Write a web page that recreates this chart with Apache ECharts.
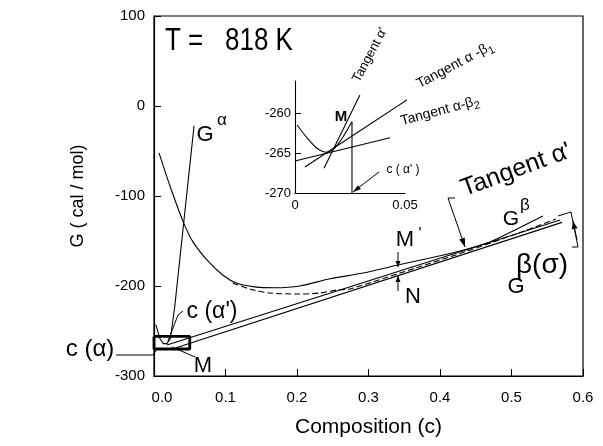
<!DOCTYPE html>
<html><head><meta charset="utf-8">
<script src="https://cdn.jsdelivr.net/npm/echarts@6/dist/echarts.min.js"></script>
<style>html,body{margin:0;padding:0;background:#fff}#c{width:603px;height:446px}</style>
</head><body><div id="c"></div>
<script>
// ---- data ----
const xTickValues = [0, 0.1, 0.2, 0.3, 0.4, 0.5, 0.6];
const yTickValues = [-300, -200, -100, 0, 100];
const gAlpha = [[0.0025,-243],[0.008,-258],[0.013,-264],[0.018,-264],[0.023,-258],[0.029,-223],[0.056,-22]];
const gBeta = [[0.007,-52],[0.022,-88],[0.041,-129],[0.0545,-151],[0.074,-171],[0.0965,-188],[0.116,-197],[0.141,-201],[0.169,-202],[0.204,-200],[0.246,-192],[0.292,-185.6],[0.341,-176.7],[0.386,-168.9],[0.428,-161.1],[0.470,-151.1],[0.505,-137.8],[0.544,-122.2]];
const gBetaSigma = [[0.110,-196.7],[0.134,-203.3],[0.162,-207.8],[0.204,-208.9],[0.232,-207.8],[0.256,-204.4],[0.274,-203.3],[0.344,-185.6],[0.428,-163.9],[0.512,-140.6],[0.562,-125.6]];
const tangentAlphaP = [[0.018,-265.5],[0.568,-126.7]];
const tangentCommon = [[0.03,-268.8],[0.5706,-129.3]];
const zoomBox = [[0,-256],[0.05,-256],[0.05,-270],[0,-270],[0,-256]];
// inset
const insetXLabels = [0, 0.05];
const insetYLabels = [-270, -265, -260];
const insetGAlpha = [[0.0009,-261.5],[0.0055,-263.1],[0.010,-264.4],[0.0145,-264.9],[0.018,-264.4],[0.0218,-263.0],[0.0259,-261.1]];
const insetTanAlphaP = [[0.0132,-266.9],[0.0295,-257.75]];
const insetTanAB1 = [[0.0045,-266.75],[0.0523,-258.1]];
const insetTanAB2 = [[0,-266],[0.0432,-263.1]];
const insetCAlphaP = [[0.0259,-261.1],[0.0259,-270]];

const FF = '"Liberation Sans", Arial, sans-serif';
const chart = echarts.init(document.getElementById('c'), null, {renderer:'canvas'});

function lineSeries(data, xi, opts) {
  opts = opts || {};
  return {type:'line', xAxisIndex:xi, yAxisIndex:xi, data:data, symbol:'none', showSymbol:false,
    clip:false, silent:true, animation:false, smooth:opts.smooth||false,
    lineStyle:{color:'#000', width:opts.width||1.1, type:opts.type||'solid'}};
}
function txt(x,y,text,size,opt){
  opt=opt||{};
  return {type:'text', x:x, y:y, rotation:opt.rot||0, scaleY:opt.sy||1, silent:true,
    style:{text:text, font:(opt.weight||'normal')+' '+size+'px '+FF, fill:'#000',
      align:opt.align||'center', textAlign:opt.align||'center', verticalAlign:'middle', textVerticalAlign:'middle', rich:opt.rich}};
}
function pl(points,w){ return {type:'polyline', silent:true, shape:{points:points}, style:{stroke:'#000', lineWidth:w||1, fill:null}}; }
function arrow(x1,y1,x2,y2,len,w){
  len=len||8; w=w||2.5;
  const a=Math.atan2(y2-y1,x2-x1), c=Math.cos(a), s=Math.sin(a);
  return [pl([[x1,y1],[x2,y2]]),
    {type:'polygon', silent:true, shape:{points:[[x2,y2],[x2-len*c+w*s,y2-len*s-w*c],[x2-len*c-w*s,y2-len*s+w*c]]}, style:{fill:'#000'}}];
}

const graphics = [].concat(
  [txt(165,41.5,'T =   818 K',26,{align:'left', sy:1.22})],
  [txt(205,134.5,'G',22), txt(222,120,'α',17)],
  [txt(90,349,'c (α)',24), pl([[116,355],[153,355],[157,349]])],
  [txt(212,312,"c (α')",23), pl([[183,311],[178,315],[168,341]])],
  [txt(203,366,'M',22), pl([[172,347],[195,357]])],
  [txt(405,240,'M',22), txt(420,235,"'",16)],
  arrow(398,252,398,267,6,2.5),
  arrow(398,291,398,276,6,2.5),
  [txt(413,297,'N',22)],
  [txt(516,170,"Tangent α'",25,{rot:20*Math.PI/180})],
  [pl([[455,198],[448,198]])], arrow(448,198,465,247,9,3),
  [txt(511,219,'G',21), txt(525,205,'β',17)],
  [txt(542,265,'β(σ)',28), txt(516,287,'G',22)],
  [pl([[558,216],[571,212],[578,247],[572,247]])], arrow(577,240,573,221,8,3),
  // inset annotations
  [txt(341,117,'M',15,{weight:'bold'})],
  [txt(370,55,"Tangent α'",13,{rot:62*Math.PI/180})],
  [txt(455,65,'{a|Tangent α -β}{b|1}',14,{rot:28*Math.PI/180, rich:{a:{font:'14px '+FF},b:{font:'11px '+FF, padding:[9,0,0,0]}}})],
  [txt(440,111,'{a|Tangent α-β}{b|2}',14,{rot:15*Math.PI/180, rich:{a:{font:'14px '+FF},b:{font:'11px '+FF, padding:[9,0,0,0]}}})],
  [txt(403,170,"c ( α' )",12)],
  arrow(379,172,353,192,8,2.5)
);

chart.setOption({
  animation:false,
  backgroundColor:'#fff',
  grid:[
    {left:154, right:20, top:16, bottom:70, show:true, borderColor:'#000', borderWidth:1.2, backgroundColor:'transparent'},
    {left:295, top:81, width:110, height:112}
  ],
  xAxis:[
    {type:'value', gridIndex:0, min:0, max:0.6, interval:0.1,
      axisLine:{show:true, onZero:false, lineStyle:{color:'#000', width:1.2}},
      axisTick:{show:true, inside:true, length:7, lineStyle:{color:'#000'}},
      splitLine:{show:false},
      axisLabel:{color:'#000', fontSize:15, fontFamily:FF, margin:14,
        formatter:function(v){ return v===0 ? '{f|0.0}' : v.toFixed(1); },
        rich:{f:{fontSize:15, fontFamily:FF, color:'#000', padding:[0,0,0,16]}}},
      name:'Composition (c)', nameLocation:'middle', nameGap:41,
      nameTextStyle:{color:'#000', fontSize:21, fontFamily:FF}},
    {type:'value', gridIndex:1, min:0, max:0.05,
      axisLine:{show:true, onZero:false, lineStyle:{color:'#000', width:1.1}},
      axisTick:{show:false},
      splitLine:{show:false},
      axisLabel:{color:'#000', fontSize:13, fontFamily:FF, margin:6, customValues:insetXLabels,
        formatter:function(v){ return v===0 ? '0' : '0.05'; }}}
  ],
  yAxis:[
    {type:'value', gridIndex:0, min:-300, max:100, interval:100,
      axisLine:{show:true, onZero:false, lineStyle:{color:'#000', width:1.2}},
      axisTick:{show:true, inside:true, length:7, lineStyle:{color:'#000'}},
      splitLine:{show:false},
      axisLabel:{color:'#000', fontSize:15, fontFamily:FF, margin:9},
      name:'G ( cal / mol)', nameLocation:'middle', nameGap:67, nameRotate:90,
      nameTextStyle:{color:'#000', fontSize:18, fontFamily:FF}},
    {type:'value', gridIndex:1, min:-270, max:-256,
      axisLine:{show:true, onZero:false, lineStyle:{color:'#000', width:1.1}},
      axisTick:{show:true, inside:true, length:6, customValues:[-265,-260], lineStyle:{color:'#000'}},
      splitLine:{show:false},
      axisLabel:{color:'#000', fontSize:13, fontFamily:FF, margin:4, customValues:insetYLabels}}
  ],
  series:[
    lineSeries(gAlpha,0),
    lineSeries(gBeta,0,{smooth:0.25}),
    lineSeries(gBetaSigma,0,{type:[6,3], smooth:0.25}),
    lineSeries(tangentAlphaP,0),
    lineSeries(tangentCommon,0),
    lineSeries(zoomBox,0,{width:2.8}),
    lineSeries(insetGAlpha,1,{smooth:0.3}),
    lineSeries(insetTanAlphaP,1),
    lineSeries(insetTanAB1,1),
    lineSeries(insetTanAB2,1),
    lineSeries(insetCAlphaP,1)
  ],
  graphic:graphics
});
</script></body></html>
